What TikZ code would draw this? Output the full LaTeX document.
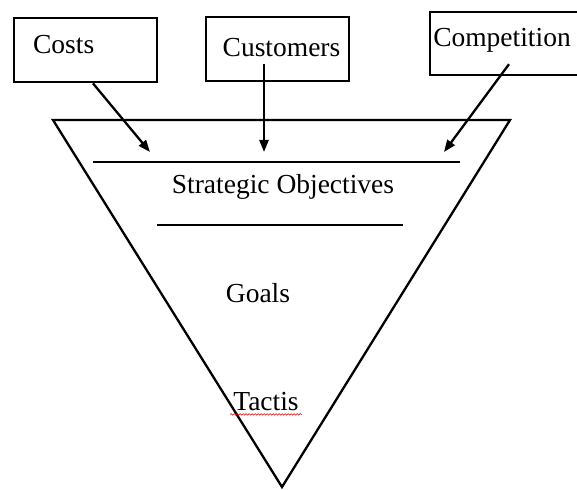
\documentclass[tikz,border=0pt]{standalone}
\usepackage{fontspec}
\setmainfont{Liberation Serif}
\usetikzlibrary{arrows.meta,decorations.pathmorphing}

\begin{document}
\begin{tikzpicture}[x=1pt,y=-1pt,>={Triangle[length=12pt,width=9pt]},line width=2.3pt,
    factor/.style={draw,line width=2.8pt,minimum width=143pt,minimum height=64pt},
    lbl/.style={inner sep=2pt,font=\fontsize{27.5}{32}\selectfont},
    spell/.style={red!85!black,line width=0.6pt,decorate,
        decoration={snake,amplitude=0.8pt,segment length=3pt}}]

    % Page frame
    \useasboundingbox (0,0) rectangle (577,489);
    \clip (0,0) rectangle (577,489);

    % Funnel with its two dividers
    \draw (53,120) -- (510,120) -- (282,487) -- cycle;
    \draw (93,162) -- (460,162);
    \draw (157,225) -- (403,225);

    % Levels
    \node [lbl] (objectives) at (283,187) {Strategic Objectives};
    \node [lbl] (goals) at (258,293) {Goals};
    \node [lbl] (tactis) at (266,402) {Tactis};
    \draw [spell] (tactis.south west) -- (tactis.south east);

    % Input boxes
    \node [factor] (costsbox) at (85.5,50) {};
    \node [lbl,anchor=west] (costs) at (30,45) {Costs};

    \node [factor] (customersbox) at (277.5,49) {};
    \node [lbl] (customers) at (281.5,48) {Customers};

    \node [factor,minimum width=170pt,minimum height=63pt] (competitionbox) at (515,43.5) {};
    \node [lbl] (competition) at (502,40) {Competition};

    % Inputs into the funnel
    \coordinate (costsin) at (150,152);
    \coordinate (customersin) at (264,152);
    \coordinate (competitionin) at (444,152);

    \draw [->] ([xshift=7.5pt]costsbox.south) -- (costsin);
    \draw [->] ([xshift=-17.5pt,yshift=-4pt]customers.south) -- (customersin);
    \draw [->] ([xshift=7pt,yshift=-9pt]competition.south) -- (competitionin);

\end{tikzpicture}
\end{document}
